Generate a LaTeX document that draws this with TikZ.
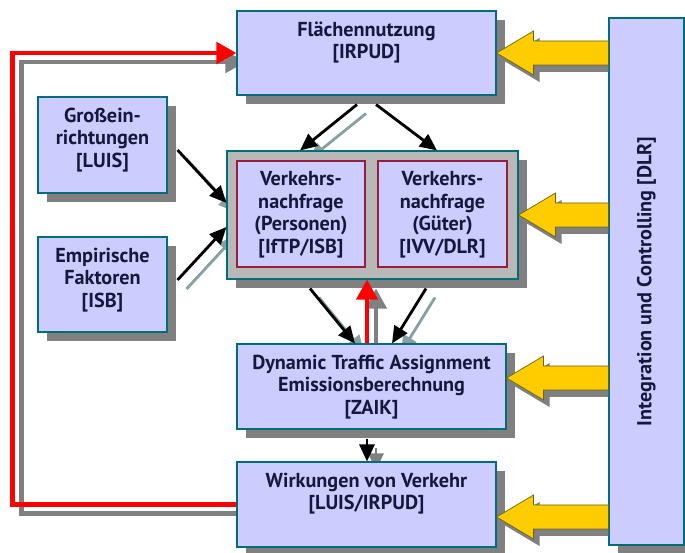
\documentclass[tikz,border=0pt]{standalone}
\usepackage{fontspec}
\setmainfont{PT Sans}
\usetikzlibrary{arrows.meta,shadows,calc,backgrounds}

\definecolor{boxfill}{RGB}{204,204,255}
\definecolor{boxline}{RGB}{0,110,120}
\definecolor{innerline}{RGB}{150,30,60}
\definecolor{graybox}{RGB}{184,184,184}
\definecolor{shadowgray}{RGB}{128,128,128}
\definecolor{lineshade}{RGB}{135,160,160}
\definecolor{navy}{RGB}{20,25,60}
\definecolor{gold}{RGB}{255,204,0}
\definecolor{goldline}{RGB}{110,100,20}

\newcommand{\boxfont}{\fontsize{11.5}{12.8}\selectfont\bfseries}

% yellow arrow from the DLR column to a box
\newcommand{\goldarrow}[1]{%
  \path #1 coordinate (tip);
  \path (tip -| dlr.west) coordinate (base);
  \fill[shadowgray] ($(tip)+(0.12,-0.14)$) -- ++(0.74,0.44) -- ++(0,-0.2) -- ($(base)+(0,0.10)$)
    -- ($(base)+(0,-0.38)$) -- ($(tip)+(0.86,-0.38)$) -- ++(0,-0.2) -- cycle;
  \filldraw[fill=gold, draw=goldline, line width=0.4pt] (tip) -- ++(0.74,0.44) -- ++(0,-0.2)
    -- ($(base)+(0,0.24)$) -- ($(base)+(0,-0.24)$) -- ($(tip)+(0.74,-0.24)$) -- ++(0,-0.2) -- cycle;
}

\begin{document}
\begin{tikzpicture}[
    box/.style={rectangle, draw=boxline, fill=boxfill, line width=0.6pt, inner sep=0pt,
      drop shadow={shadow xshift=0.18cm, shadow yshift=-0.18cm, fill=shadowgray, opacity=1}},
    inner box/.style={rectangle, draw=innerline, fill=boxfill, line width=0.6pt, inner sep=0pt},
    txt/.style={font=\boxfont, text=navy, align=center, inner sep=0pt},
    title/.style={label={[txt, anchor=north, yshift=-0.22cm]north:{#1}}},
    flow/.style={line width=1.6pt, -{Triangle[length=0.34cm,width=0.3cm]}},
    back/.style={line width=2.8pt, -{Triangle[length=0.4cm,width=0.42cm]}}]
  \useasboundingbox (0,0) rectangle (13.7,-11.06);

  % boxes
  \node[box, minimum width=5.18cm, minimum height=1.68cm,
    title={Flächennutzung\\{[IRPUD]}}] (flaeche) at (7.33,-1.06) {};
  \node[box, minimum width=2.58cm, minimum height=1.92cm,
    title={Großein-\\richtungen\\{[LUIS]}}] (gross) at (2.05,-2.90) {};
  \node[box, minimum width=2.58cm, minimum height=1.90cm,
    title={Empirische\\Faktoren\\{[ISB]}}] (empir) at (2.05,-5.69) {};
  \node[box, fill=graybox, minimum width=5.82cm, minimum height=2.56cm] (nachfrage) at (7.45,-4.30) {};
  \node[inner box, minimum width=2.56cm, minimum height=2.12cm,
    title={Verkehrs-\\nachfrage\\(Personen)\\{[IfTP/ISB]}}] (pers) at (6.02,-4.28) {};
  \node[inner box, minimum width=2.58cm, minimum height=2.12cm,
    title={Verkehrs-\\nachfrage\\(Güter)\\{[IVV/DLR]}}] (gueter) at (8.85,-4.28) {};
  \node[box, minimum width=5.38cm, minimum height=1.70cm,
    title={Dynamic Traffic Assignment\\Emissionsberechnung\\{[ZAIK]}}] (dta) at (7.43,-7.73) {};
  \node[box, minimum width=5.18cm, minimum height=1.70cm,
    title={Wirkungen von Verkehr\\{[LUIS/IRPUD]}}] (wirk) at (7.33,-10.09) {};
  \node[box, minimum width=1.50cm, minimum height=10.54cm,
    label={[txt, rotate=90]center:{Integration und Controlling [DLR]}}] (dlr) at (12.93,-5.63) {};

  % shadows of the connectors
  \begin{pgfonlayer}{background}
    \fill[white] (0,0) rectangle (13.7,-11.06);
    \begin{scope}[transform canvas={shift={(0.18,-0.18)}}]
      \draw[back, shadowgray] (wirk.west) -- ++(-4.48,0) |- (flaeche.west);
      \path[flow, lineshade]
        ([xshift=-0.19cm,yshift=-0.18cm]flaeche.south) edge ([xshift=-1.45cm]nachfrage.north)
        ([xshift=0.2cm,yshift=-0.1cm]gross.east) edge ([yshift=0.24cm]nachfrage.west)
        ([xshift=0.2cm,yshift=0.09cm]empir.east) edge ([yshift=-0.24cm]nachfrage.west)
        ([xshift=-1.25cm,yshift=-0.18cm]nachfrage.south) edge ([xshift=-0.33cm]dta.north)
        ([xshift=1.07cm,yshift=-0.18cm]nachfrage.south) edge ([xshift=0.41cm]dta.north);
      \draw[back, line width=2.2pt, shadowgray] ([xshift=-0.09cm]dta.north) -- ($(dta.north |- nachfrage.south)+(-0.09,0)$);
      \draw[flow, shadowgray] ([xshift=-0.09cm,yshift=-0.18cm]dta.south) -- ($(dta.south |- wirk.north)+(-0.09,0)$);
    \end{scope}
  \end{pgfonlayer}

  % connectors
  \draw[back, red] (wirk.west) -- ++(-4.48,0) |- (flaeche.west);
  \path[flow]
    ([xshift=-0.19cm,yshift=-0.18cm]flaeche.south) edge ([xshift=-1.45cm]nachfrage.north)
    ([xshift=0.19cm,yshift=-0.18cm]flaeche.south) edge ([xshift=1.29cm]nachfrage.north)
    ([xshift=0.2cm,yshift=-0.1cm]gross.east) edge ([yshift=0.24cm]nachfrage.west)
    ([xshift=0.2cm,yshift=0.09cm]empir.east) edge ([yshift=-0.24cm]nachfrage.west)
    ([xshift=-1.25cm,yshift=-0.18cm]nachfrage.south) edge ([xshift=-0.33cm]dta.north)
    ([xshift=1.07cm,yshift=-0.18cm]nachfrage.south) edge ([xshift=0.41cm]dta.north)
    ([xshift=-0.09cm,yshift=-0.18cm]dta.south) edge ($(dta.south |- wirk.north)+(-0.09,0)$);
  \draw[back, line width=2.2pt, red] ([xshift=-0.09cm]dta.north) -- ($(dta.north |- nachfrage.south)+(-0.09,0)$);

  % control arrows
  \goldarrow{(flaeche.east)}
  \goldarrow{(nachfrage.east)}
  \goldarrow{([yshift=0.17cm]dta.east)}
  \goldarrow{([yshift=-0.25cm]wirk.east)}
\end{tikzpicture}
\end{document}
